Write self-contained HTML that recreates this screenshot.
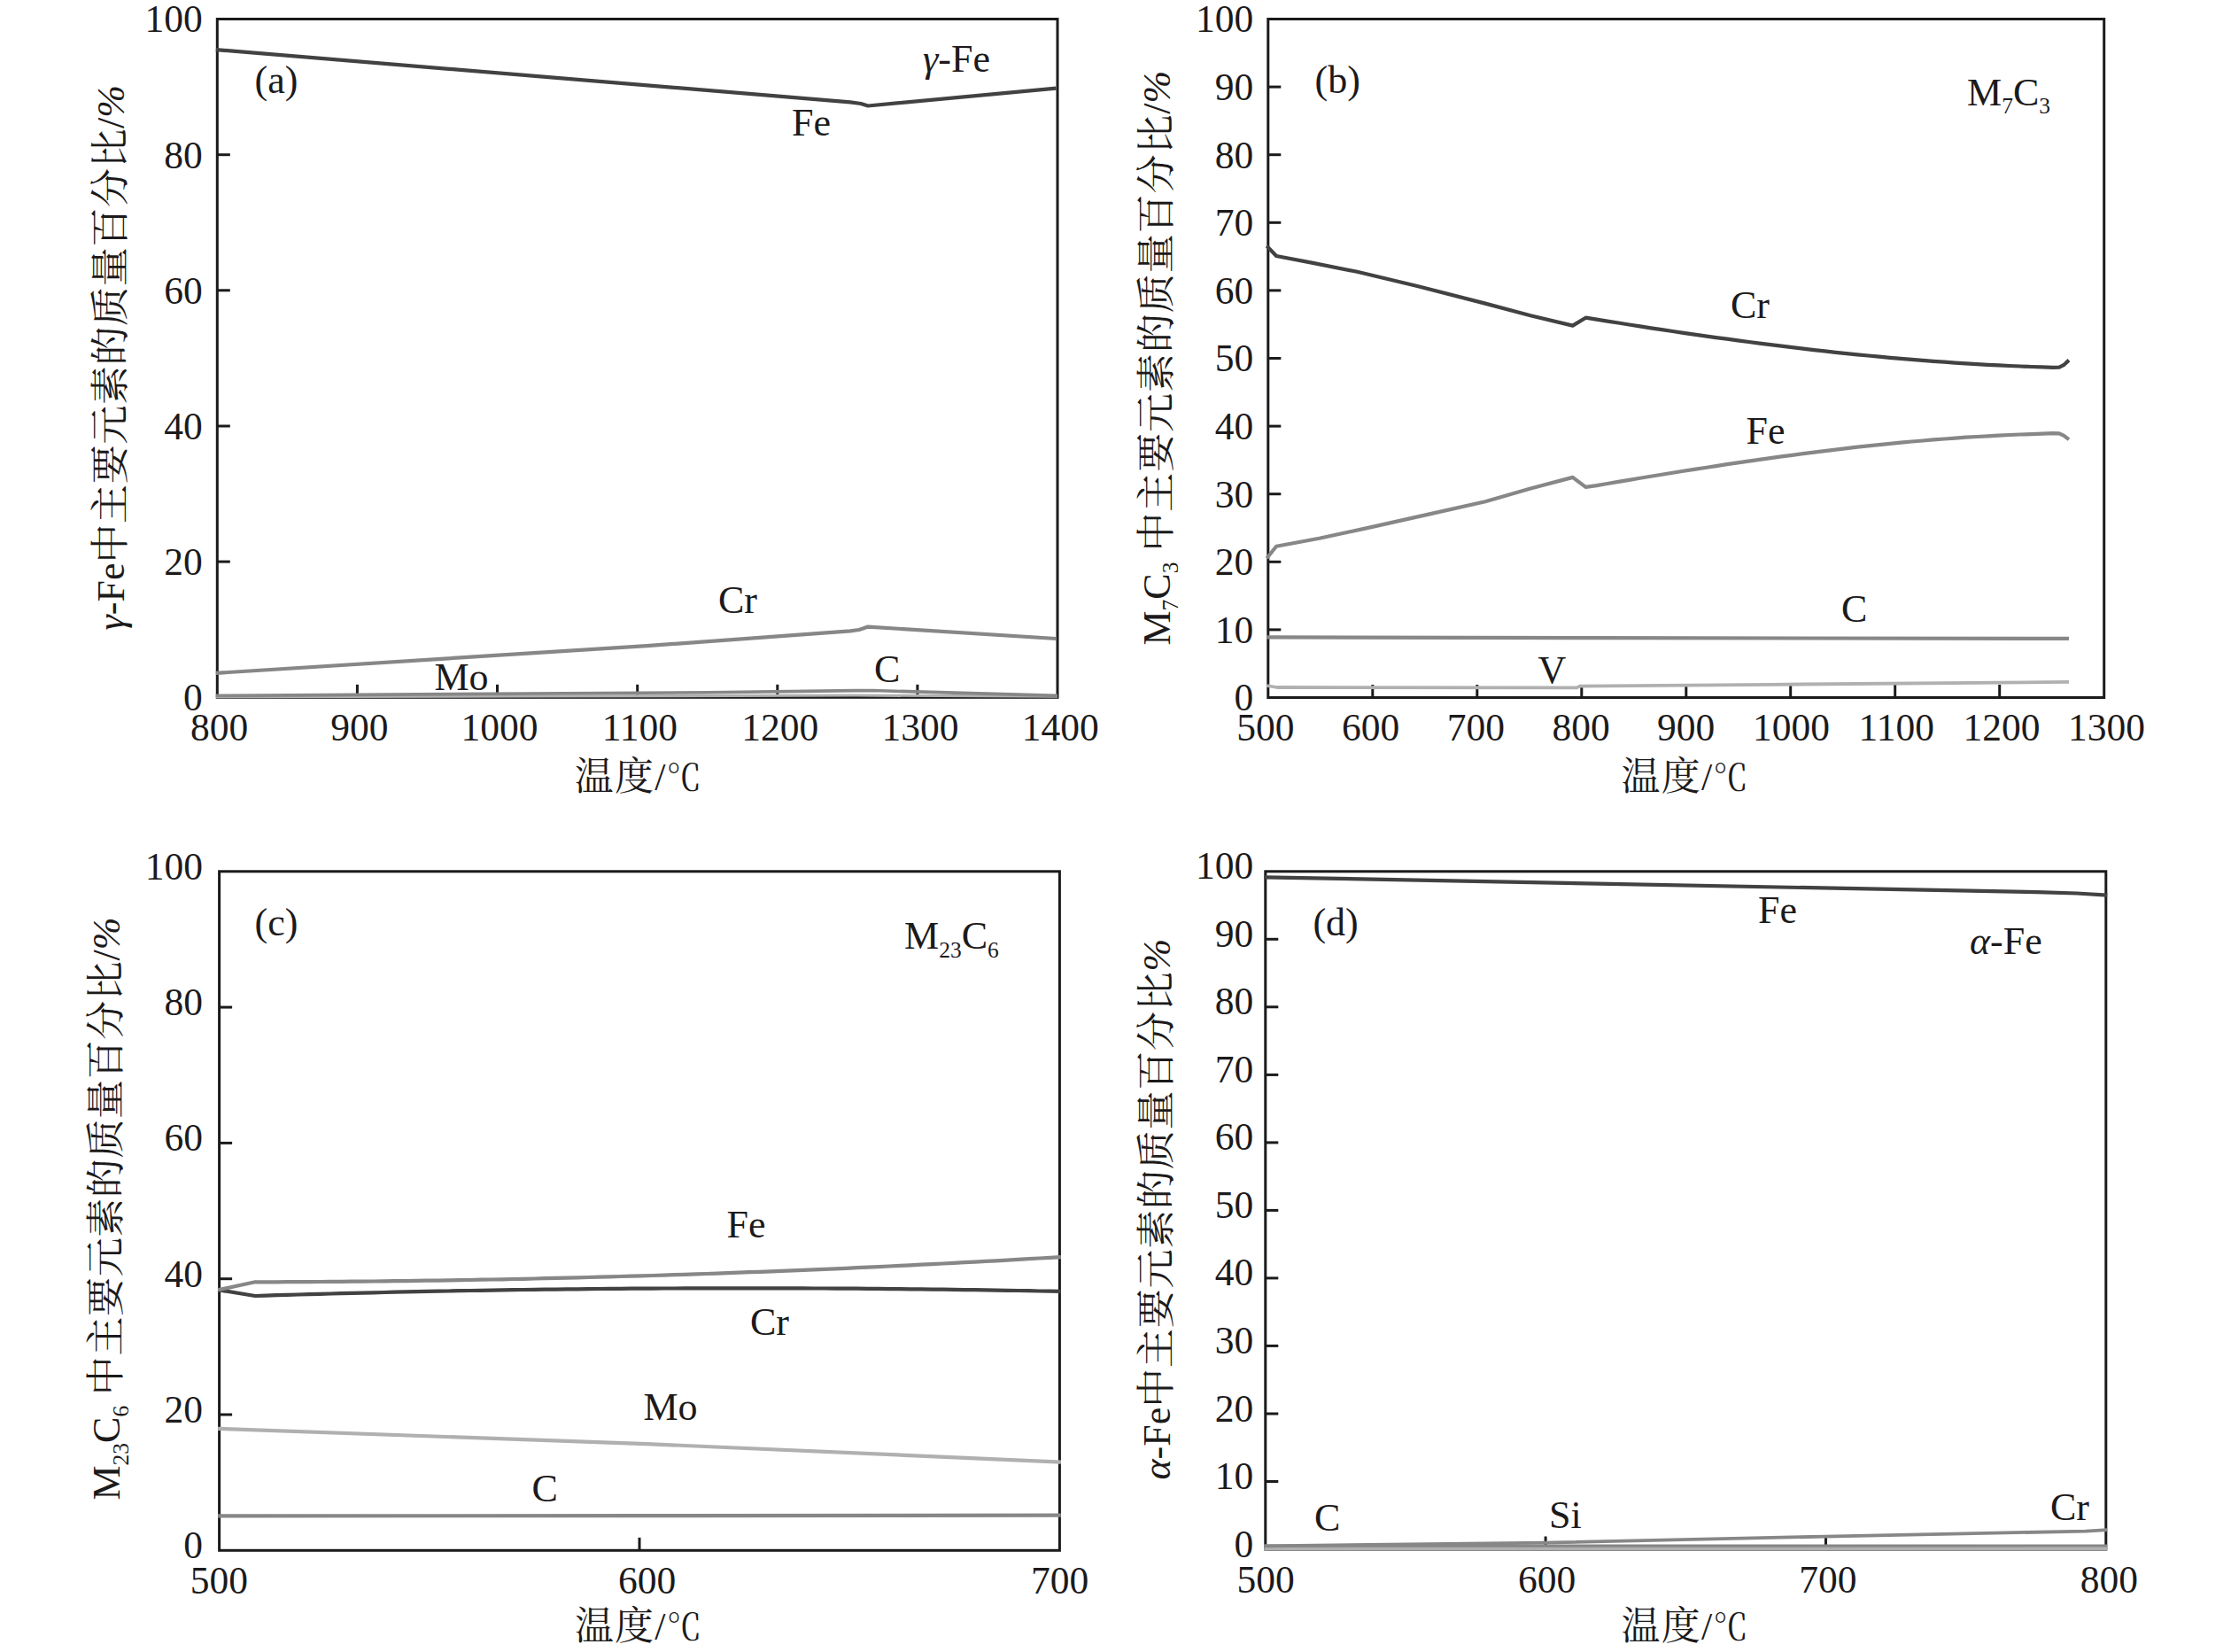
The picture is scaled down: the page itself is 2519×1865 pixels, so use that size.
<!DOCTYPE html>
<html lang="zh-CN">
<head>
<meta charset="utf-8">
<title>Figure</title>
<style>
html,body{margin:0;padding:0;background:#fff;}
body{width:2519px;height:1865px;overflow:hidden;}
svg{display:block;}
text{font-family:"Liberation Serif", "Noto Serif CJK SC", serif;fill:#1c1a1b;}
text.cj{font-family:"Liberation Serif", "Noto Serif CJK SC", serif;}
</style>
</head>
<body>
<svg width="2519" height="1865" viewBox="0 0 2519 1865">
<rect x="0" y="0" width="2519" height="1865" fill="#ffffff"/>
<rect x="245.3" y="21.5" width="948.7" height="765.8" fill="none" stroke="#1c1a1b" stroke-width="3"/>
<text x="228.7" y="802.1" text-anchor="end" font-size="43.5" >0</text>
<line x1="245.3" y1="634.1" x2="259.8" y2="634.1" stroke="#1c1a1b" stroke-width="3"/>
<text x="228.7" y="648.9" text-anchor="end" font-size="43.5" >20</text>
<line x1="245.3" y1="481.0" x2="259.8" y2="481.0" stroke="#1c1a1b" stroke-width="3"/>
<text x="228.7" y="495.8" text-anchor="end" font-size="43.5" >40</text>
<line x1="245.3" y1="327.8" x2="259.8" y2="327.8" stroke="#1c1a1b" stroke-width="3"/>
<text x="228.7" y="342.6" text-anchor="end" font-size="43.5" >60</text>
<line x1="245.3" y1="174.7" x2="259.8" y2="174.7" stroke="#1c1a1b" stroke-width="3"/>
<text x="228.7" y="189.5" text-anchor="end" font-size="43.5" >80</text>
<text x="228.7" y="36.3" text-anchor="end" font-size="43.5" >100</text>
<text x="247.5" y="835.9" text-anchor="middle" font-size="43.5" >800</text>
<line x1="403.4" y1="787.3" x2="403.4" y2="772.8" stroke="#1c1a1b" stroke-width="3"/>
<text x="405.8" y="835.9" text-anchor="middle" font-size="43.5" >900</text>
<line x1="561.5" y1="787.3" x2="561.5" y2="772.8" stroke="#1c1a1b" stroke-width="3"/>
<text x="564.1" y="835.9" text-anchor="middle" font-size="43.5" >1000</text>
<line x1="719.7" y1="787.3" x2="719.7" y2="772.8" stroke="#1c1a1b" stroke-width="3"/>
<text x="722.4" y="835.9" text-anchor="middle" font-size="43.5" >1100</text>
<line x1="877.8" y1="787.3" x2="877.8" y2="772.8" stroke="#1c1a1b" stroke-width="3"/>
<text x="880.7" y="835.9" text-anchor="middle" font-size="43.5" >1200</text>
<line x1="1035.9" y1="787.3" x2="1035.9" y2="772.8" stroke="#1c1a1b" stroke-width="3"/>
<text x="1039.0" y="835.9" text-anchor="middle" font-size="43.5" >1300</text>
<text x="1197.3" y="835.9" text-anchor="middle" font-size="43.5" >1400</text>
<rect x="1431.8" y="21.5" width="943.9" height="766.0" fill="none" stroke="#1c1a1b" stroke-width="3"/>
<text x="1415.2" y="802.3" text-anchor="end" font-size="43.5" >0</text>
<line x1="1431.8" y1="710.9" x2="1446.3" y2="710.9" stroke="#1c1a1b" stroke-width="3"/>
<text x="1415.2" y="725.7" text-anchor="end" font-size="43.5" >10</text>
<line x1="1431.8" y1="634.3" x2="1446.3" y2="634.3" stroke="#1c1a1b" stroke-width="3"/>
<text x="1415.2" y="649.1" text-anchor="end" font-size="43.5" >20</text>
<line x1="1431.8" y1="557.7" x2="1446.3" y2="557.7" stroke="#1c1a1b" stroke-width="3"/>
<text x="1415.2" y="572.5" text-anchor="end" font-size="43.5" >30</text>
<line x1="1431.8" y1="481.1" x2="1446.3" y2="481.1" stroke="#1c1a1b" stroke-width="3"/>
<text x="1415.2" y="495.9" text-anchor="end" font-size="43.5" >40</text>
<line x1="1431.8" y1="404.5" x2="1446.3" y2="404.5" stroke="#1c1a1b" stroke-width="3"/>
<text x="1415.2" y="419.3" text-anchor="end" font-size="43.5" >50</text>
<line x1="1431.8" y1="327.9" x2="1446.3" y2="327.9" stroke="#1c1a1b" stroke-width="3"/>
<text x="1415.2" y="342.7" text-anchor="end" font-size="43.5" >60</text>
<line x1="1431.8" y1="251.3" x2="1446.3" y2="251.3" stroke="#1c1a1b" stroke-width="3"/>
<text x="1415.2" y="266.1" text-anchor="end" font-size="43.5" >70</text>
<line x1="1431.8" y1="174.7" x2="1446.3" y2="174.7" stroke="#1c1a1b" stroke-width="3"/>
<text x="1415.2" y="189.5" text-anchor="end" font-size="43.5" >80</text>
<line x1="1431.8" y1="98.1" x2="1446.3" y2="98.1" stroke="#1c1a1b" stroke-width="3"/>
<text x="1415.2" y="112.9" text-anchor="end" font-size="43.5" >90</text>
<text x="1415.2" y="36.3" text-anchor="end" font-size="43.5" >100</text>
<text x="1428.9" y="836.1" text-anchor="middle" font-size="43.5" >500</text>
<line x1="1549.8" y1="787.5" x2="1549.8" y2="773.0" stroke="#1c1a1b" stroke-width="3"/>
<text x="1547.6" y="836.1" text-anchor="middle" font-size="43.5" >600</text>
<line x1="1667.8" y1="787.5" x2="1667.8" y2="773.0" stroke="#1c1a1b" stroke-width="3"/>
<text x="1666.3" y="836.1" text-anchor="middle" font-size="43.5" >700</text>
<line x1="1785.8" y1="787.5" x2="1785.8" y2="773.0" stroke="#1c1a1b" stroke-width="3"/>
<text x="1785.0" y="836.1" text-anchor="middle" font-size="43.5" >800</text>
<line x1="1903.8" y1="787.5" x2="1903.8" y2="773.0" stroke="#1c1a1b" stroke-width="3"/>
<text x="1903.7" y="836.1" text-anchor="middle" font-size="43.5" >900</text>
<line x1="2021.7" y1="787.5" x2="2021.7" y2="773.0" stroke="#1c1a1b" stroke-width="3"/>
<text x="2022.5" y="836.1" text-anchor="middle" font-size="43.5" >1000</text>
<line x1="2139.7" y1="787.5" x2="2139.7" y2="773.0" stroke="#1c1a1b" stroke-width="3"/>
<text x="2141.2" y="836.1" text-anchor="middle" font-size="43.5" >1100</text>
<line x1="2257.7" y1="787.5" x2="2257.7" y2="773.0" stroke="#1c1a1b" stroke-width="3"/>
<text x="2259.9" y="836.1" text-anchor="middle" font-size="43.5" >1200</text>
<text x="2378.6" y="836.1" text-anchor="middle" font-size="43.5" >1300</text>
<rect x="247.6" y="983.8" width="948.8" height="766.5" fill="none" stroke="#1c1a1b" stroke-width="3"/>
<text x="229.0" y="1759.2" text-anchor="end" font-size="43.5" >0</text>
<line x1="247.6" y1="1597.0" x2="262.1" y2="1597.0" stroke="#1c1a1b" stroke-width="3"/>
<text x="229.0" y="1605.9" text-anchor="end" font-size="43.5" >20</text>
<line x1="247.6" y1="1443.7" x2="262.1" y2="1443.7" stroke="#1c1a1b" stroke-width="3"/>
<text x="229.0" y="1452.6" text-anchor="end" font-size="43.5" >40</text>
<line x1="247.6" y1="1290.4" x2="262.1" y2="1290.4" stroke="#1c1a1b" stroke-width="3"/>
<text x="229.0" y="1299.3" text-anchor="end" font-size="43.5" >60</text>
<line x1="247.6" y1="1137.1" x2="262.1" y2="1137.1" stroke="#1c1a1b" stroke-width="3"/>
<text x="229.0" y="1146.0" text-anchor="end" font-size="43.5" >80</text>
<text x="229.0" y="992.7" text-anchor="end" font-size="43.5" >100</text>
<text x="247.4" y="1798.9" text-anchor="middle" font-size="43.5" >500</text>
<line x1="722.0" y1="1750.3" x2="722.0" y2="1735.8" stroke="#1c1a1b" stroke-width="3"/>
<text x="730.6" y="1798.9" text-anchor="middle" font-size="43.5" >600</text>
<text x="1196.5" y="1798.9" text-anchor="middle" font-size="43.5" >700</text>
<rect x="1428.8" y="983.8" width="949.0" height="765.2" fill="none" stroke="#1c1a1b" stroke-width="3"/>
<text x="1415.2" y="1757.5" text-anchor="end" font-size="43.5" >0</text>
<line x1="1428.8" y1="1672.5" x2="1443.3" y2="1672.5" stroke="#1c1a1b" stroke-width="3"/>
<text x="1415.2" y="1681.0" text-anchor="end" font-size="43.5" >10</text>
<line x1="1428.8" y1="1596.0" x2="1443.3" y2="1596.0" stroke="#1c1a1b" stroke-width="3"/>
<text x="1415.2" y="1604.5" text-anchor="end" font-size="43.5" >20</text>
<line x1="1428.8" y1="1519.4" x2="1443.3" y2="1519.4" stroke="#1c1a1b" stroke-width="3"/>
<text x="1415.2" y="1527.9" text-anchor="end" font-size="43.5" >30</text>
<line x1="1428.8" y1="1442.9" x2="1443.3" y2="1442.9" stroke="#1c1a1b" stroke-width="3"/>
<text x="1415.2" y="1451.4" text-anchor="end" font-size="43.5" >40</text>
<line x1="1428.8" y1="1366.4" x2="1443.3" y2="1366.4" stroke="#1c1a1b" stroke-width="3"/>
<text x="1415.2" y="1374.9" text-anchor="end" font-size="43.5" >50</text>
<line x1="1428.8" y1="1289.9" x2="1443.3" y2="1289.9" stroke="#1c1a1b" stroke-width="3"/>
<text x="1415.2" y="1298.4" text-anchor="end" font-size="43.5" >60</text>
<line x1="1428.8" y1="1213.4" x2="1443.3" y2="1213.4" stroke="#1c1a1b" stroke-width="3"/>
<text x="1415.2" y="1221.9" text-anchor="end" font-size="43.5" >70</text>
<line x1="1428.8" y1="1136.8" x2="1443.3" y2="1136.8" stroke="#1c1a1b" stroke-width="3"/>
<text x="1415.2" y="1145.3" text-anchor="end" font-size="43.5" >80</text>
<line x1="1428.8" y1="1060.3" x2="1443.3" y2="1060.3" stroke="#1c1a1b" stroke-width="3"/>
<text x="1415.2" y="1068.8" text-anchor="end" font-size="43.5" >90</text>
<text x="1415.2" y="992.3" text-anchor="end" font-size="43.5" >100</text>
<text x="1429.1" y="1797.6" text-anchor="middle" font-size="43.5" >500</text>
<line x1="1745.1" y1="1749.0" x2="1745.1" y2="1734.5" stroke="#1c1a1b" stroke-width="3"/>
<text x="1746.5" y="1797.6" text-anchor="middle" font-size="43.5" >600</text>
<line x1="2061.5" y1="1749.0" x2="2061.5" y2="1734.5" stroke="#1c1a1b" stroke-width="3"/>
<text x="2063.9" y="1797.6" text-anchor="middle" font-size="43.5" >700</text>
<text x="2381.3" y="1797.6" text-anchor="middle" font-size="43.5" >800</text>
<polyline points="243.8,786.6 600.0,786.0 965.0,785.0 1194.0,786.2" fill="none" stroke="#b0b0b0" stroke-width="3.2" stroke-linejoin="round"/>
<polyline points="243.8,785.4 800.0,781.7 965.0,779.6 985.0,779.5 1194.0,785.4" fill="none" stroke="#878787" stroke-width="3.6" stroke-linejoin="round"/>
<polyline points="243.8,759.9 730.0,729.2 960.0,712.4 970.0,711.0 980.0,707.6 1192.5,721.0" fill="none" stroke="#878787" stroke-width="4.2" stroke-linejoin="round"/>
<polyline points="243.8,56.1 960.0,115.3 972.0,117.0 980.0,119.5 1192.5,99.6" fill="none" stroke="#424242" stroke-width="4.2" stroke-linejoin="round"/>
<polyline points="1430.3,774.0 1441.8,776.0 1780.0,776.4 1784.0,774.6 2000.0,772.8 2336.0,769.9" fill="none" stroke="#b0b0b0" stroke-width="3.8" stroke-linejoin="round"/>
<polyline points="1430.3,719.4 1800.0,720.2 2336.0,720.9" fill="none" stroke="#878787" stroke-width="4.2" stroke-linejoin="round"/>
<polyline points="1430.3,630.2 1441.1,616.7 1489.6,607.7 1549.2,594.9 1617.4,579.6 1677.0,566.3 1728.1,551.5 1775.8,538.9 1790.4,549.9 1802.7,548.1 1814.9,546.0 1827.2,543.9 1839.5,541.9 1851.7,539.8 1864.0,537.8 1876.3,535.8 1888.6,533.8 1900.8,531.8 1913.1,529.9 1925.4,528.0 1937.6,526.1 1949.9,524.2 1962.2,522.4 1974.4,520.6 1986.7,518.8 1999.0,517.1 2011.3,515.4 2023.5,513.8 2035.8,512.2 2048.1,510.6 2060.3,509.1 2072.6,507.6 2084.9,506.1 2097.1,504.7 2109.4,503.4 2121.7,502.1 2134.0,500.9 2146.2,499.7 2158.5,498.5 2170.8,497.5 2183.0,496.4 2195.3,495.5 2207.6,494.6 2219.8,493.7 2232.1,493.0 2244.4,492.3 2256.7,491.6 2268.9,491.0 2281.2,490.5 2293.5,490.1 2305.7,489.7 2318.0,489.1 2325.0,489.3 2330.0,491.6 2336.0,496.2" fill="none" stroke="#878787" stroke-width="4.2" stroke-linejoin="round"/>
<polyline points="1430.3,277.6 1441.1,289.0 1481.1,296.6 1532.2,306.8 1600.3,323.0 1677.0,342.6 1728.1,356.2 1775.8,367.6 1790.4,358.7 1802.7,360.6 1814.9,362.6 1827.2,364.5 1839.5,366.5 1851.7,368.4 1864.0,370.3 1876.3,372.1 1888.6,374.0 1900.8,375.8 1913.1,377.6 1925.4,379.3 1937.6,381.1 1949.9,382.7 1962.2,384.4 1974.4,386.0 1986.7,387.6 1999.0,389.2 2011.3,390.7 2023.5,392.2 2035.8,393.7 2048.1,395.1 2060.3,396.4 2072.6,397.8 2084.9,399.1 2097.1,400.3 2109.4,401.5 2121.7,402.7 2134.0,403.8 2146.2,404.9 2158.5,405.9 2170.8,406.9 2183.0,407.8 2195.3,408.7 2207.6,409.6 2219.8,410.4 2232.1,411.1 2244.4,411.8 2256.7,412.4 2268.9,413.0 2281.2,413.5 2293.5,414.0 2305.7,414.4 2318.0,414.9 2325.0,414.7 2330.0,412.2 2336.0,406.6" fill="none" stroke="#424242" stroke-width="4.2" stroke-linejoin="round"/>
<polyline points="246.1,1711.4 730.0,1711.1 1197.9,1710.7" fill="none" stroke="#878787" stroke-width="4.2" stroke-linejoin="round"/>
<polyline points="246.1,1612.8 730.0,1630.1 1197.9,1650.6" fill="none" stroke="#b0b0b0" stroke-width="4.2" stroke-linejoin="round"/>
<polyline points="246.1,1456.2 288.1,1463.0 300.2,1462.6 312.4,1462.2 324.5,1461.9 336.6,1461.5 348.8,1461.2 360.9,1460.8 373.0,1460.5 385.1,1460.2 397.3,1459.9 409.4,1459.6 421.5,1459.3 433.7,1459.0 445.8,1458.7 457.9,1458.4 470.1,1458.2 482.2,1457.9 494.3,1457.7 506.5,1457.5 518.6,1457.2 530.7,1457.0 542.8,1456.8 555.0,1456.6 567.1,1456.4 579.2,1456.2 591.4,1456.0 603.5,1455.9 615.6,1455.7 627.8,1455.6 639.9,1455.4 652.0,1455.3 664.2,1455.2 676.3,1455.0 688.4,1454.9 700.5,1454.8 712.7,1454.7 724.8,1454.7 736.9,1454.6 749.1,1454.5 761.2,1454.5 773.3,1454.4 785.5,1454.4 797.6,1454.3 809.7,1454.3 821.8,1454.3 834.0,1454.3 846.1,1454.3 858.2,1454.3 870.4,1454.3 882.5,1454.3 894.6,1454.4 906.8,1454.4 918.9,1454.5 931.0,1454.5 943.2,1454.6 955.3,1454.7 967.4,1454.7 979.5,1454.8 991.7,1454.9 1003.8,1455.1 1015.9,1455.2 1028.1,1455.3 1040.2,1455.4 1052.3,1455.6 1064.5,1455.7 1076.6,1455.9 1088.7,1456.1 1100.9,1456.2 1113.0,1456.4 1125.1,1456.6 1137.2,1456.8 1149.4,1457.0 1161.5,1457.2 1173.6,1457.5 1185.8,1457.7 1197.9,1457.9" fill="none" stroke="#424242" stroke-width="4.2" stroke-linejoin="round"/>
<polyline points="246.1,1456.2 288.1,1447.3 300.2,1447.3 312.4,1447.3 324.5,1447.2 336.6,1447.2 348.8,1447.1 360.9,1447.0 373.0,1446.9 385.1,1446.8 397.3,1446.7 409.4,1446.6 421.5,1446.5 433.7,1446.4 445.8,1446.2 457.9,1446.1 470.1,1445.9 482.2,1445.7 494.3,1445.6 506.5,1445.4 518.6,1445.2 530.7,1445.0 542.8,1444.7 555.0,1444.5 567.1,1444.3 579.2,1444.0 591.4,1443.8 603.5,1443.5 615.6,1443.2 627.8,1442.9 639.9,1442.7 652.0,1442.4 664.2,1442.0 676.3,1441.7 688.4,1441.4 700.5,1441.0 712.7,1440.7 724.8,1440.3 736.9,1440.0 749.1,1439.6 761.2,1439.2 773.3,1438.8 785.5,1438.4 797.6,1438.0 809.7,1437.6 821.8,1437.1 834.0,1436.7 846.1,1436.2 858.2,1435.8 870.4,1435.3 882.5,1434.8 894.6,1434.3 906.8,1433.8 918.9,1433.3 931.0,1432.8 943.2,1432.3 955.3,1431.8 967.4,1431.2 979.5,1430.7 991.7,1430.1 1003.8,1429.5 1015.9,1428.9 1028.1,1428.3 1040.2,1427.7 1052.3,1427.1 1064.5,1426.5 1076.6,1425.9 1088.7,1425.2 1100.9,1424.6 1113.0,1423.9 1125.1,1423.3 1137.2,1422.6 1149.4,1421.9 1161.5,1421.2 1173.6,1420.5 1185.8,1419.8 1197.9,1419.2" fill="none" stroke="#878787" stroke-width="4.2" stroke-linejoin="round"/>
<polyline points="1427.3,1747.8 2379.3,1747.8" fill="none" stroke="#b0b0b0" stroke-width="4.2" stroke-linejoin="round"/>
<polyline points="1427.3,1745.2 2379.3,1745.0" fill="none" stroke="#878787" stroke-width="3.2" stroke-linejoin="round"/>
<polyline points="1427.3,1745.4 1745.0,1741.6 2061.0,1734.6 2355.0,1728.6 2379.3,1727.2" fill="none" stroke="#878787" stroke-width="3.8" stroke-linejoin="round"/>
<polyline points="1427.3,990.3 2300.0,1007.1 2345.0,1008.5 2379.3,1010.7" fill="none" stroke="#424242" stroke-width="4.2" stroke-linejoin="round"/>
<text x="287.5" y="105.3" text-anchor="start" font-size="44" >(a)</text>
<text x="1042.0" y="81.3" text-anchor="start" font-size="44" ><tspan font-style="italic">γ</tspan>-Fe</text>
<text x="894.0" y="152.6" text-anchor="start" font-size="44" >Fe</text>
<text x="811.0" y="691.8" text-anchor="start" font-size="44" >Cr</text>
<text x="490.5" y="779.0" text-anchor="start" font-size="44" >Mo</text>
<text x="987.0" y="770.1" text-anchor="start" font-size="44" >C</text>
<text x="1484.5" y="105.0" text-anchor="start" font-size="44" >(b)</text>
<text x="2221.0" y="118.6" text-anchor="start" font-size="44" >M<tspan font-size="25.5" dy="9.5">7</tspan><tspan dy="-9.5">C</tspan><tspan font-size="25.5" dy="9.5">3</tspan></text>
<text x="1954.0" y="358.6" text-anchor="start" font-size="44" >Cr</text>
<text x="1971.5" y="501.0" text-anchor="start" font-size="44" >Fe</text>
<text x="2079.0" y="701.5" text-anchor="start" font-size="44" >C</text>
<text x="1736.5" y="770.5" text-anchor="start" font-size="44" >V</text>
<text x="287.5" y="1055.9" text-anchor="start" font-size="44" >(c)</text>
<text x="1021.0" y="1071.3" text-anchor="start" font-size="44" >M<tspan font-size="25.5" dy="9.5">23</tspan><tspan dy="-9.5">C</tspan><tspan font-size="25.5" dy="9.5">6</tspan></text>
<text x="820.5" y="1396.9" text-anchor="start" font-size="44" >Fe</text>
<text x="847.0" y="1507.1" text-anchor="start" font-size="44" >Cr</text>
<text x="726.5" y="1603.4" text-anchor="start" font-size="44" >Mo</text>
<text x="600.5" y="1695.4" text-anchor="start" font-size="44" >C</text>
<text x="1482.4" y="1056.1" text-anchor="start" font-size="44" >(d)</text>
<text x="2224.0" y="1076.9" text-anchor="start" font-size="44" ><tspan font-style="italic">α</tspan>-Fe</text>
<text x="1985.0" y="1042.1" text-anchor="start" font-size="44" >Fe</text>
<text x="1484.0" y="1728.1" text-anchor="start" font-size="44" >C</text>
<text x="1749.0" y="1725.0" text-anchor="start" font-size="44" >Si</text>
<text x="2315.0" y="1716.2" text-anchor="start" font-size="44" >Cr</text>
<text x="721.0" y="892.0" text-anchor="middle" font-size="44" letter-spacing="1.2" class="cj">温度/<tspan font-size="39.5">℃</tspan></text>
<text x="1902.8" y="892.0" text-anchor="middle" font-size="44" letter-spacing="1.2" class="cj">温度/<tspan font-size="39.5">℃</tspan></text>
<text x="721.2" y="1851.3" text-anchor="middle" font-size="44" letter-spacing="1.2" class="cj">温度/<tspan font-size="39.5">℃</tspan></text>
<text x="1902.8" y="1851.3" text-anchor="middle" font-size="44" letter-spacing="1.2" class="cj">温度/<tspan font-size="39.5">℃</tspan></text>
<text transform="translate(140.4,711.5) rotate(-90)" text-anchor="start" font-size="44" class="cj"><tspan font-style="italic">γ</tspan>-Fe<tspan letter-spacing="0.6">中主要元素的质量百分比</tspan>/<tspan font-style="italic">%</tspan></text>
<text transform="translate(1320.8,728.5) rotate(-90)" text-anchor="start" font-size="44" class="cj">M<tspan font-size="25.5" dy="9.5">7</tspan><tspan dy="-9.5">C</tspan><tspan font-size="25.5" dy="9.5">3</tspan><tspan dy="-9.5" letter-spacing="0.9"> 中主要元素的质量百分比</tspan>/<tspan font-style="italic">%</tspan></text>
<text transform="translate(135.2,1693.5) rotate(-90)" text-anchor="start" font-size="44" class="cj">M<tspan font-size="25.5" dy="9.5">23</tspan><tspan dy="-9.5">C</tspan><tspan font-size="25.5" dy="9.5">6</tspan><tspan dy="-9.5" letter-spacing="0.6"> 中主要元素的质量百分比</tspan>/<tspan font-style="italic">%</tspan></text>
<text transform="translate(1320.8,1670.5) rotate(-90)" text-anchor="start" font-size="44" class="cj"><tspan font-style="italic">α</tspan>-Fe<tspan letter-spacing="0.75">中主要元素的质量百分比</tspan><tspan font-style="italic">%</tspan></text>
</svg>
</body>
</html>
